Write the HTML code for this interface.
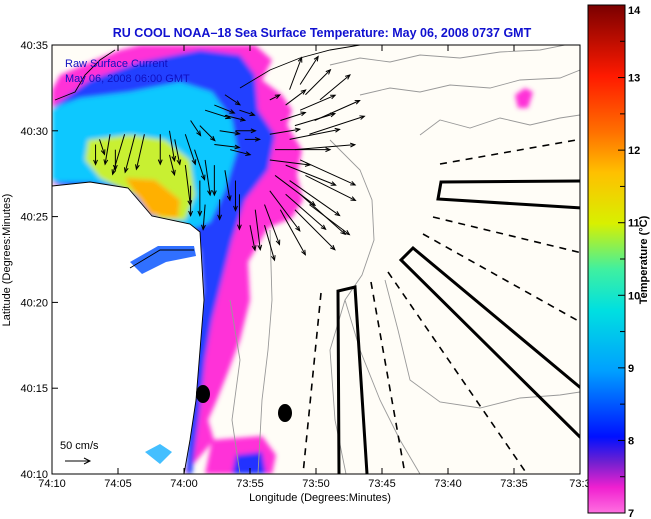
<!DOCTYPE html>
<html><head><meta charset="utf-8"><style>
body{margin:0;background:#fff;width:651px;height:519px;overflow:hidden}
svg{display:block;font-family:"Liberation Sans",Arial,sans-serif}
</style></head><body>
<svg id="c" width="651" height="519" viewBox="0 0 651 519">
<defs>
<clipPath id="pc"><rect x="52" y="45" width="528" height="429"/></clipPath>
<filter id="bl" x="-5%" y="-5%" width="110%" height="110%"><feGaussianBlur stdDeviation="2.5"/></filter>
<linearGradient id="cg" x1="0" y1="0" x2="0" y2="1">
<stop offset="0" stop-color="#7a0000"/><stop offset="0.14" stop-color="#ff1a00"/>
<stop offset="0.25" stop-color="#ff7000"/><stop offset="0.33" stop-color="#ffc000"/>
<stop offset="0.43" stop-color="#d8f000"/><stop offset="0.52" stop-color="#40f0a0"/>
<stop offset="0.6" stop-color="#00e0e0"/><stop offset="0.72" stop-color="#00a0ff"/>
<stop offset="0.85" stop-color="#0010ff"/><stop offset="0.9" stop-color="#7020d0"/>
<stop offset="0.95" stop-color="#f020d0"/><stop offset="1" stop-color="#ff70e0"/>
</linearGradient>
</defs>
<text x="322" y="37" text-anchor="middle" font-size="12.5" font-weight="bold" fill="#1010d0">RU COOL  NOAA–18  Sea Surface Temperature:  May 06, 2008 0737 GMT</text>
<rect x="52" y="45" width="528" height="429" fill="#fffdf7"/>
<g clip-path="url(#pc)">
 <g filter="url(#bl)">
  <polygon fill="#ff30d8" points="52,90 60,75 95,60 120,50 140,45 255,45 272,60 262,80 282,95 292,110 287,125 302,150 297,175 303,200 292,218 268,228 248,262 250,300 240,340 228,372 216,402 208,420 214,440 185,474 190,440 194,400 200,350 205,300 200,250 182,228 152,222 90,192 52,184"/>
  <polygon fill="#ff30d8" points="212,440 262,436 276,455 272,474 205,474"/>
  <polygon fill="#ff30d8" points="515,95 525,88 533,92 528,108 518,108"/>
  <polygon fill="#2040ff" points="55,105 90,80 140,62 200,50 240,55 255,75 258,110 275,135 268,170 245,200 232,240 222,280 212,320 205,360 200,410 196,440 192,474 186,474 190,400 196,330 203,290 200,250 182,228 152,222 90,192 55,184"/>
  <polygon fill="#2030ff" points="236,455 262,452 266,474 232,474"/>
  <polygon fill="#10c8ff" points="52,108 80,98 130,92 180,82 212,92 232,120 237,150 225,190 210,222 195,228 152,218 128,188 90,182 52,182"/>
  <polygon fill="#10b0ff" points="140,455 162,442 175,450 160,465"/>
  <polygon fill="#c8f030" points="88,140 130,135 165,140 190,160 195,195 185,220 160,220 135,195 100,178 85,160"/>
  <polygon fill="#ffb000" points="125,178 155,180 180,200 178,218 150,215"/>
 </g>
 <polygon fill="#fff" points="52,186 90,182 128,188 152,216 190,224 200,232 204,300 200,350 196,400 190,440 184,474 52,474"/>
 <polygon fill="#1a60ff" points="130,262 158,246 194,246 196,256 166,262 142,274" opacity="0.9"/>
 <polygon fill="#30b8ff" points="145,452 160,444 172,452 160,464" opacity="0.9"/>
 <g fill="none" stroke="#000" stroke-width="0.9">
  <polyline points="52,186 90,182 128,188 152,216 190,224 200,232 204,300 200,350 196,400 190,440 184,474"/>
  <polyline points="55,100 75,92 85,75 100,60 115,50"/>
  <polyline points="240,88 270,70 300,58 330,50 360,45"/>
  <polyline points="130,268 160,250 194,250"/>
 </g>
 <g fill="none" stroke="#999" stroke-width="0.9">
  <polyline points="330,65 360,58 390,62 420,55 460,58 500,52 540,50 580,42"/>
  <polyline points="360,95 390,88 420,92 450,85 490,88 520,80 560,78 580,70"/>
  <polyline points="420,135 440,120 470,128 500,118 530,125 560,118 580,115"/>
  <polyline points="330,140 360,170 372,200 374,240 362,275 345,300 330,350 335,420 346,474"/>
  <polyline points="385,280 398,330 410,380 440,402 480,408 520,398 560,395 580,392"/>
  <polyline points="345,300 360,350 380,400 400,440 420,474"/>
  <polyline points="270,230 272,300 268,350 262,400 258,474"/>
  <polyline points="230,300 240,360 232,420 240,474"/>
 </g>
 <g fill="none" stroke="#000" stroke-width="3">
  <polyline points="582,181 441,182 438,199 582,208"/>
  <polyline points="582,389 413,248 401,260 582,439"/>
  <polyline points="367,474 355,287 338,291 339,474"/>
 </g>
 <g stroke="#000" stroke-width="1.6" stroke-dasharray="7,6">
  <line x1="440" y1="164" x2="582" y2="139"/>
  <line x1="433" y1="217" x2="582" y2="253"/>
  <line x1="423" y1="234" x2="582" y2="323"/>
  <line x1="388" y1="272" x2="527" y2="474"/>
  <line x1="371" y1="282" x2="405" y2="474"/>
  <line x1="321" y1="293" x2="303" y2="474"/>
 </g>
 <ellipse cx="203" cy="394" rx="7" ry="9" fill="#000"/>
 <ellipse cx="285" cy="413" rx="7" ry="9" fill="#000"/>
 <g id="vec" stroke="#000" stroke-width="1" fill="none"></g>
</g>
<rect x="52" y="45" width="528" height="429" fill="none" stroke="#000" stroke-width="1"/>
<text x="65" y="67" font-size="11" fill="#1010c0">Raw Surface Current</text>
<text x="65" y="82" font-size="11" fill="#1010c0">May 06, 2008 06:00 GMT</text>
<text x="60" y="449" font-size="11" fill="#000">50 cm/s</text>
<g stroke="#000" stroke-width="1"><line x1="65" y1="461" x2="90" y2="461"/><polyline fill="none" points="84,458 90,461 84,464"/></g>
<g id="ax" font-size="11" fill="#000"></g>
<text x="320" y="501" text-anchor="middle" font-size="11">Longitude (Degrees:Minutes)</text>
<text transform="translate(10,260) rotate(-90)" text-anchor="middle" font-size="11">Latitude (Degrees:Minutes)</text>
<rect x="588" y="5" width="37" height="508" fill="url(#cg)" stroke="#000" stroke-width="1"/>
<g id="cb" font-size="11" font-weight="bold"></g>
<text transform="translate(647,260) rotate(-90)" text-anchor="middle" font-size="11" font-weight="bold">Temperature (°C)</text>
</svg>
<script>
const lonTicks=[70,65,60,55,50,45,40,35,30];
const lonLabels=["74:10","74:05","74:00","73:55","73:50","73:45","73:40","73:35","73:3"];
const latTicks=[35,30,25,20,15,10];
const latLabels=["40:35","40:30","40:25","40:20","40:15","40:10"];
const cbTicks=[14,13,12,11,10,9,8,7];
// current vectors: lon/lat in minutes (74:xx -> 60+xx, 73:xx -> xx), u/v in cm/s
const vLon=[52.0,51.2,50.8,53.5,52.3,51.2,49.7,52.7,51.6,50.1,53.5,52.0,50.5,53.1,51.6,53.5,52.3,51.2,53.1,52.0,50.8,53.5,52.3,51.2,53.9,52.7,51.6,50.5,54.6,55.8,55.0,53.9,
 56.9,57.7,58.4,56.9,55.8,57.3,56.1,55.4,57.7,56.5,58.8,59.5,59.9,61.1,61.8,63.0,63.7,64.5,65.6,65.2,66.7,66.4,59.2,58.4,57.7,56.9,59.9,58.8,59.5,61.1,60.7,58.4,57.3,56.1];
const vLat=[32.4,32.7,32.1,31.8,31.5,31.2,31.8,30.6,30.3,30.6,29.8,29.5,29.8,28.9,28.9,28.3,28.0,28.3,27.4,27.1,27.4,26.5,26.3,26.3,25.7,25.4,25.4,25.7,25.4,26.3,24.5,24.5,
 32.1,31.5,31.2,30.9,31.2,30.0,30.0,29.5,29.2,28.9,30.3,30.6,29.8,30.0,29.8,29.8,29.8,29.8,29.8,28.9,29.2,29.5,28.9,28.3,28.0,27.7,28.0,27.1,26.8,28.6,29.5,25.7,26.0,27.1];
const vU=[24,36,50,20,40,70,60,50,80,90,60,100,110,110,120,80,100,110,80,100,100,60,80,90,30,50,80,80,10,0,10,20,
 30,40,50,40,30,40,40,30,50,40,30,20,20,10,0,-16,-20,-24,-10,0,0,10,20,10,0,10,10,0,0,10,10,-4,0,0];
const vV=[64,56,50,10,30,30,50,16,24,40,10,20,36,0,10,-10,-40,-50,-60,-70,-50,-80,-70,-80,-80,-90,-80,-60,-80,-70,-50,-70,
 -20,-16,-16,-10,-10,-6,0,0,-6,-10,-30,-30,-60,-60,-60,-70,-76,-80,-60,-40,-40,-30,-60,-70,-60,-60,-80,-70,-60,-40,-50,-50,-40,-60];
const X=m=>52+(70-m)*13.2, Y=m=>45+(35-m)*17.16, S=0.5;
const NS="http://www.w3.org/2000/svg";
function mk(t,a,p){const e=document.createElementNS(NS,t);for(const k in a)e.setAttribute(k,a[k]);p.appendChild(e);return e;}
const vg=document.getElementById('vec');
for(let i=0;i<vLon.length;i++){
 const x0=X(vLon[i]),y0=Y(vLat[i]),x1=x0+vU[i]*S,y1=y0-vV[i]*S;
 const a=Math.atan2(y1-y0,x1-x0),h=5;
 const g=mk('g',{},vg);
 
 
 mk('line',{x1:x0,y1:y0,x2:x1,y2:y1},g);
 mk('polyline',{points:`${x1-h*Math.cos(a-0.4)},${y1-h*Math.sin(a-0.4)} ${x1},${y1} ${x1-h*Math.cos(a+0.4)},${y1-h*Math.sin(a+0.4)}`},g);
}
const ax=document.getElementById('ax');
lonTicks.forEach((t,i)=>{const x=X(t);
 const l=mk('line',{x1:x,y1:474,x2:x,y2:468,stroke:'#000'},ax);
 
 
 const l2=mk('line',{x1:x,y1:45,x2:x,y2:51,stroke:'#000'},ax);
 
 
 const tx=mk('text',{x:x,y:487,'text-anchor':'middle'},ax);tx.textContent=lonLabels[i];
 
 });
latTicks.forEach((t,i)=>{const y=Y(t);
 const l=mk('line',{x1:52,y1:y,x2:58,y2:y,stroke:'#000'},ax);
 
 
 const tx=mk('text',{x:48,y:y+4,'text-anchor':'end'},ax);tx.textContent=latLabels[i];
 
 });
const cb=document.getElementById('cb');
const CY=v=>5+(14-v)*508/7;
cbTicks.forEach(v=>{const y=CY(v);
 const tx=mk('text',{x:628,y:Math.min(Math.max(y+4,14),517)},cb);tx.textContent=v;
 
 
 if(v>7){const m=mk('line',{x1:620,y1:CY(v-0.5),x2:625,y2:CY(v-0.5),stroke:'#000'},cb);
 
 }
 const l=mk('line',{x1:618,y1:y,x2:625,y2:y,stroke:'#000'},cb);
 
 });
</script>
</body></html>
